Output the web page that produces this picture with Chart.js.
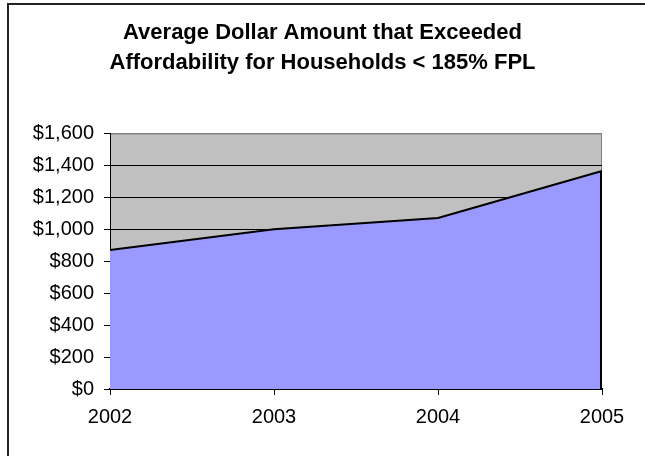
<!DOCTYPE html>
<html>
<head>
<meta charset="utf-8">
<script src="https://cdn.jsdelivr.net/npm/chart.js@4.4.1/dist/chart.umd.min.js"></script>
<style>
    html, body { margin: 0; padding: 0; background: #fff; }
    #wrap { width: 645px; height: 456px; }
</style>
</head>
<body>
<div id="wrap"><canvas id="affordability"></canvas></div>
<script>
// Data
const years = ['2002', '2003', '2004', '2005'];
const avgExceeded = [870, 1000, 1070, 1365];
const titleLines = ['Average Dollar Amount that Exceeded', 'Affordability for Households < 185% FPL'];

// Gray plot background, drawn before the grid
const plotBackground = {
    id: 'plotBackground',
    beforeDraw(chart) {
        const { ctx, chartArea: a } = chart;
        ctx.save();
        ctx.fillStyle = '#C0C0C0';
        ctx.fillRect(a.left, a.top, a.right - a.left, a.bottom - a.top);
        ctx.strokeStyle = '#808080';
        ctx.lineWidth = 1;
        ctx.beginPath();
        ctx.moveTo(a.left, a.top + 0.5);
        ctx.lineTo(a.right - 0.5, a.top + 0.5);
        ctx.lineTo(a.right - 0.5, a.bottom);
        ctx.stroke();
        ctx.restore();
    }
};

// Close the area outline on its right side and draw the outer frame
const areaEdge = {
    id: 'areaEdge',
    afterDatasetsDraw(chart) {
        const { ctx, scales } = chart;
        const last = avgExceeded.length - 1;
        const x = scales.x.getPixelForValue(last);
        const y = scales.y.getPixelForValue(avgExceeded[last]);
        ctx.save();
        ctx.strokeStyle = '#000';
        ctx.lineWidth = 2;
        ctx.beginPath();
        ctx.moveTo(x - 1, y);
        ctx.lineTo(x - 1, scales.y.getPixelForValue(0));
        ctx.stroke();
        ctx.restore();
    },
    afterDraw(chart) {
        const ctx = chart.ctx;
        ctx.save();
        ctx.strokeStyle = '#222';
        ctx.lineWidth = 2;
        ctx.strokeRect(8, 4, 700, 500);
        ctx.restore();
    }
};

const fontFamily = '"Liberation Sans", Arial, sans-serif';

new Chart(document.getElementById('affordability'), {
    type: 'line',
    data: {
        labels: years,
        datasets: [{
            data: avgExceeded,
            borderColor: '#000',
            borderWidth: 2,
            backgroundColor: '#9999FF',
            fill: 'origin',
            tension: 0,
            pointRadius: 0
        }]
    },
    options: {
        responsive: true,
        maintainAspectRatio: false,
        animation: false,
        layout: { padding: 0 },
        plugins: {
            legend: { display: false },
            tooltip: { enabled: false },
            title: {
                display: true,
                text: titleLines,
                color: '#000',
                font: { family: fontFamily, size: 22, weight: 'bold', lineHeight: 1.35 },
                padding: { top: 18, bottom: 56 }
            }
        },
        scales: {
            x: {
                offset: false,
                afterFit(scale) { scale.height = 67; },
                grid: { drawOnChartArea: false, color: '#000', tickLength: 6 },
                border: { color: '#000', width: 2 },
                ticks: {
                    color: '#000',
                    padding: 10,
                    maxRotation: 0,
                    font: { family: fontFamily, size: 20 }
                }
            },
            y: {
                min: 0,
                max: 1600,
                afterFit(scale) { scale.width = 110; },
                grid: {
                    color: ctx => (ctx.tick && ctx.tick.value === 1600 ? '#808080' : '#000'),
                    tickColor: '#000',
                    tickLength: 6,
                    lineWidth: 1
                },
                border: { color: '#000', width: 1 },
                ticks: {
                    stepSize: 200,
                    color: '#000',
                    padding: 10,
                    font: { family: fontFamily, size: 20 },
                    callback: v => '$' + v.toLocaleString('en-US')
                }
            },
            // empty right-hand axis, only reserves the margin right of the plot
            yRight: {
                position: 'right',
                min: 0,
                max: 1600,
                afterFit(scale) { scale.width = 43; },
                grid: { display: false },
                border: { display: false },
                ticks: { display: false }
            }
        }
    },
    plugins: [plotBackground, areaEdge]
});
</script>
</body>
</html>
